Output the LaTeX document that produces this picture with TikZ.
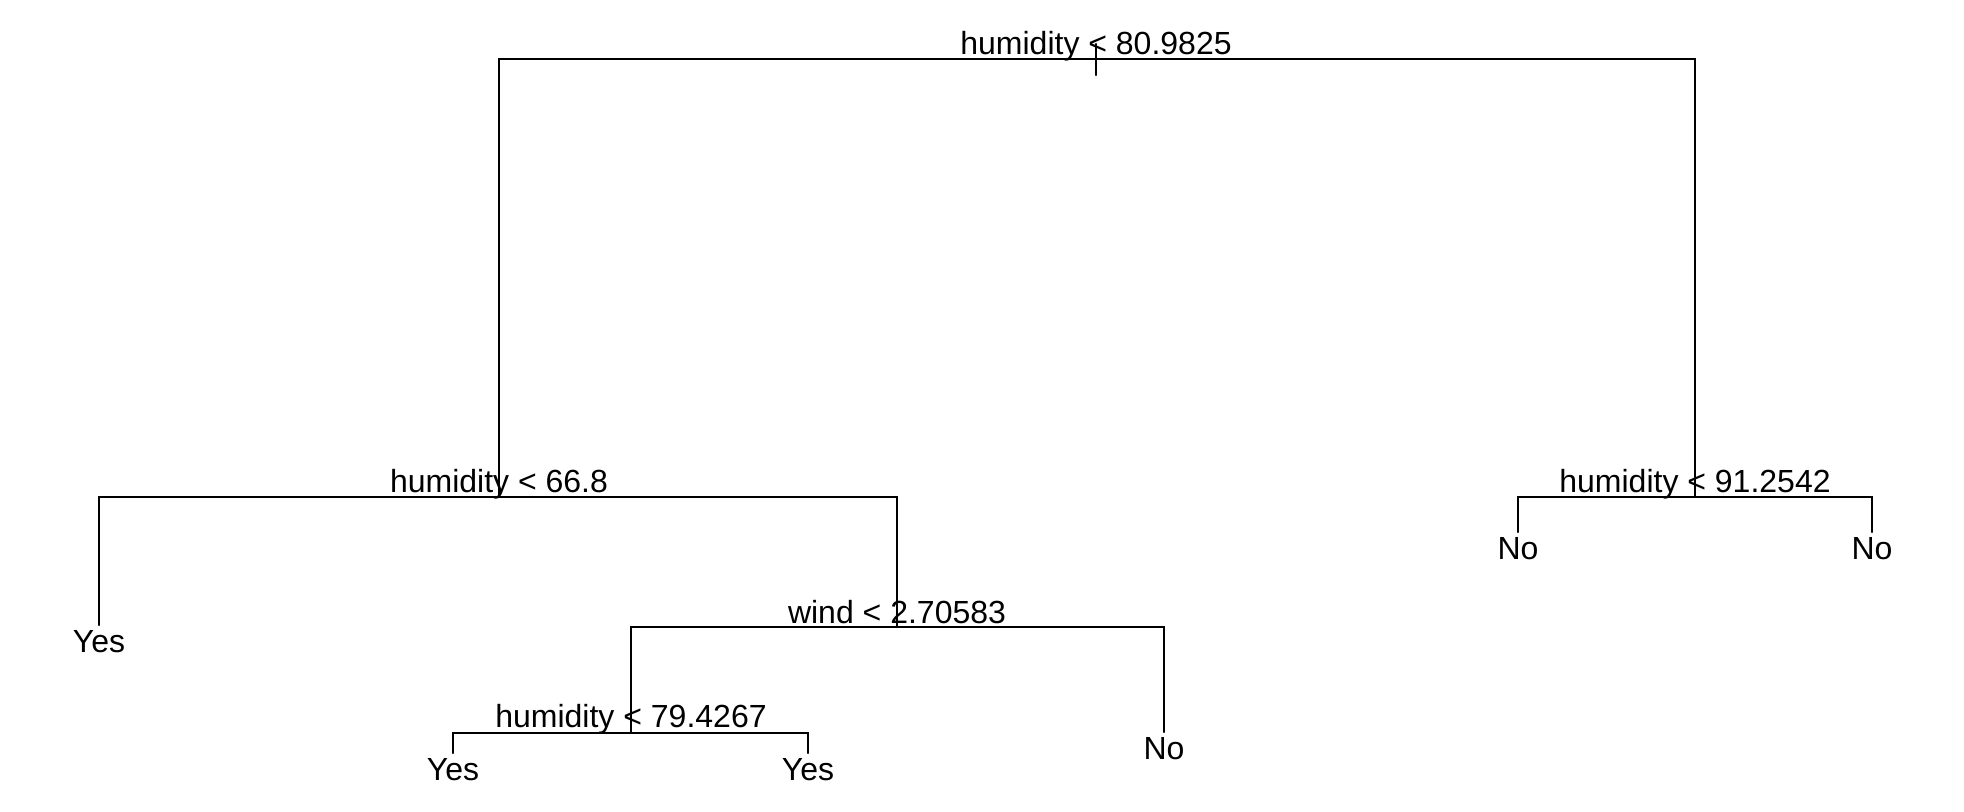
\documentclass[tikz,border=0pt]{standalone}
\usepackage{fontspec}
\setmainfont{Liberation Sans}
\begin{document}
\begin{tikzpicture}[x=0.5pt,y=-0.5pt,
  edge/.style={line width=1.1pt,line cap=round},
  split/.style={anchor=base,inner sep=0pt,font=\fontsize{16pt}{19pt}\selectfont},
  leaf/.style={anchor=north,inner sep=0pt,font=\fontsize{16pt}{19pt}\selectfont}]
\useasboundingbox (0,0) rectangle (1964,812);
% split points
\coordinate (r) at (1096,59);
\coordinate (rtop) at (1096,44);
\coordinate (rbot) at (1096,75);
\coordinate (a) at (499,497);
\coordinate (b) at (1695,497);
\coordinate (c) at (897,627);
\coordinate (d) at (631,733);
% leaf ends
\coordinate (l1) at (99,625);
\coordinate (l3) at (453,753);
\coordinate (l4) at (808,753);
\coordinate (l5) at (1164,732);
\coordinate (l6) at (1518,532);
\coordinate (l7) at (1872,532);
% edges
\draw[edge] (rtop) -- (rbot);
\draw[edge] (a) |- (r) -| (b);
\draw[edge] (l1) |- (a) -| (c);
\draw[edge] (d) |- (c) -| (l5);
\draw[edge] (l3) |- (d) -| (l4);
\draw[edge] (l6) |- (b) -| (l7);
% split labels
\node[split] (tr) at ([yshift=2pt]r) {humidity < 80.9825};
\node[split] (ta) at ([yshift=2.5pt]a) {humidity < 66.8};
\node[split] (tb) at ([yshift=2.5pt]b) {humidity < 91.2542};
\node[split] (tc) at ([yshift=2pt]c) {wind < 2.70583};
\node[split] (td) at ([yshift=3pt]d) {humidity < 79.4267};
% leaf labels
\node[leaf] (t1) at ([yshift=-2.5pt]l1) {Yes};
\node[leaf] (t3) at ([yshift=-2.5pt]l3) {Yes};
\node[leaf] (t4) at ([yshift=-2.5pt]l4) {Yes};
\node[leaf] (t5) at ([yshift=-2.5pt]l5) {No};
\node[leaf] (t6) at ([yshift=-2.5pt]l6) {No};
\node[leaf] (t7) at ([yshift=-2.5pt]l7) {No};
\end{tikzpicture}
\end{document}
